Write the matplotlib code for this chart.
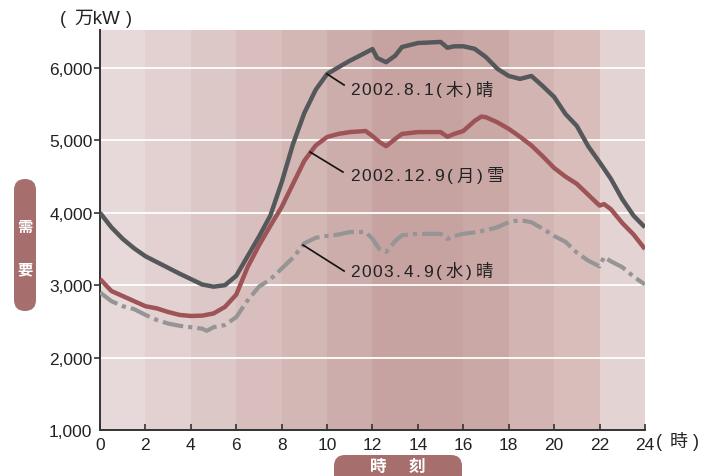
"""
Daily power demand curves (2002.8.1 / 2002.12.9 / 2003.4.9)
"""

import matplotlib.pyplot as plt
from matplotlib.patches import FancyBboxPatch

FONTS = ['Liberation Sans', 'Noto Sans CJK JP']
plt.rcParams['font.family'] = FONTS

# ---------------------------------------------------------------------------
# data (万kW)
# ---------------------------------------------------------------------------
hours_aug = [0, 0.5, 1, 1.5, 2, 2.5, 3, 3.5, 4, 4.5, 5, 5.5, 6, 6.5, 7, 7.5, 8, 8.5,
             9, 9.5, 10, 10.5, 11, 11.5, 12, 12.2, 12.6, 13, 13.3, 14, 15, 15.3, 15.6,
             16, 16.5, 17, 17.5, 18, 18.5, 19, 19.5, 20, 20.5, 21, 21.5, 22, 22.5, 23,
             23.5, 24]
demand_aug = [4000, 3800, 3640, 3510, 3400, 3320, 3240, 3160, 3085, 3010, 2980, 3000,
              3130, 3400, 3670, 3960, 4420, 4950, 5380, 5700, 5917, 6010, 6100, 6180,
              6262, 6140, 6080, 6170, 6290, 6345, 6360, 6280, 6300, 6300, 6265, 6150,
              5990, 5890, 5850, 5890, 5750, 5600, 5365, 5200, 4920, 4700, 4470, 4190,
              3960, 3800]

hours_dec = [0, 0.5, 1, 1.5, 2, 2.5, 3, 3.5, 4, 4.5, 5, 5.5, 6, 6.5, 7, 7.5, 8, 8.5,
             9, 9.5, 10, 10.5, 11, 11.7, 12, 12.3, 12.6, 13, 13.3, 14, 15, 15.3, 15.6,
             16, 16.5, 16.8, 17, 17.5, 18, 18.5, 19, 19.5, 20, 20.5, 21, 21.5, 22, 22.2,
             22.5, 23, 23.5, 24]
demand_dec = [3085, 2920, 2850, 2780, 2710, 2680, 2630, 2590, 2575, 2580, 2610, 2700,
              2870, 3250, 3550, 3820, 4080, 4400, 4720, 4930, 5047, 5090, 5115, 5130,
              5060, 4980, 4920, 5020, 5090, 5115, 5115, 5050, 5090, 5130, 5270, 5330,
              5320, 5250, 5160, 5050, 4930, 4780, 4620, 4500, 4400, 4250, 4100, 4120,
              4050, 3860, 3700, 3500]

hours_apr = [0, 0.5, 1, 1.5, 2, 2.5, 3, 3.5, 4, 4.5, 4.7, 5, 5.5, 6, 6.5, 7, 7.5, 8,
             8.5, 9, 9.5, 10, 10.5, 11, 11.7, 12, 12.3, 12.6, 13, 13.3, 14, 15, 15.3,
             15.6, 16, 16.5, 17, 17.5, 18, 18.5, 19, 19.5, 20, 20.5, 21, 21.5, 22, 22.2,
             22.5, 23, 23.5, 24]
demand_apr = [2900, 2780, 2710, 2670, 2590, 2520, 2470, 2440, 2420, 2400, 2370, 2420,
              2450, 2560, 2790, 2980, 3080, 3230, 3380, 3580, 3655, 3680, 3700, 3735,
              3735, 3640, 3500, 3460, 3610, 3690, 3710, 3710, 3640, 3680, 3710, 3730,
              3760, 3800, 3870, 3900, 3870, 3780, 3680, 3600, 3450, 3340, 3260, 3390,
              3330, 3250, 3120, 3010]

# background bands (2-hour blocks), darker around midday
band_starts = [0, 2, 4, 6, 8, 10, 12, 14, 16, 18, 20, 22]
band_colors = ['#E7D9D9', '#E2D1D0', '#DCC8C7', '#D8BFBD', '#D3B7B5', '#CDADAB',
               '#C6A3A1', '#C6A3A1', '#CAA8A6', '#D2B5B2', '#D8BDBA', '#E3D3D2']

x_ticks = list(range(0, 25, 2))
y_ticks = [1000, 2000, 3000, 4000, 5000, 6000]

# ---------------------------------------------------------------------------
fig = plt.figure(figsize=(7.15, 4.77), dpi=100)
ax = fig.add_axes([0.1399, 0.0964, 0.902 - 0.1399, 0.935 - 0.0964])
ax.set_xlim(0, 24)
ax.set_ylim(1000, 6525)

for start, col in zip(band_starts, band_colors):
    ax.axvspan(start, start + 2, color=col, lw=0, zorder=0)

for yv in y_ticks[1:]:
    ax.axhline(yv, color='white', lw=1.3, zorder=1)

ax.plot(hours_apr, demand_apr, color='#959595', lw=3.0, zorder=3,
        linestyle=(0, (5, 1.2, 1, 1.2)), dash_capstyle='butt', dash_joinstyle='round')
ax.plot(hours_dec, demand_dec, color='#9E5457', lw=3.2, zorder=4,
        solid_capstyle='butt', solid_joinstyle='round')
ax.plot(hours_aug, demand_aug, color='#55585B', lw=3.2, zorder=5,
        solid_capstyle='butt', solid_joinstyle='round')

# axes styling
for side in ('top', 'right'):
    ax.spines[side].set_visible(False)
for side in ('left', 'bottom'):
    ax.spines[side].set_color('#333333')
    ax.spines[side].set_linewidth(1.4)

ax.set_xticks(x_ticks)
ax.set_xticklabels([str(t) for t in x_ticks])
ax.set_yticks(y_ticks)
ax.set_yticklabels([f'{t:,}' for t in y_ticks])
ax.tick_params(axis='x', direction='in', length=4, width=1.2, color='#333333',
               pad=5, labelsize=12.5, labelcolor='#222222')
ax.tick_params(axis='y', direction='out', length=4, width=1.2, color='#333333',
               pad=1.5, labelsize=12.5, labelcolor='#222222')
ax.yaxis.get_majorticklines()[0].set_visible(False)


def char_width(ch):
    if ch.isdigit():
        return 11
    if ch == '.':
        return 9
    if ch in '()':
        return 11
    return 19


def spaced_label(x, y, s, size=12.5):
    """letter-spaced label, one text per character"""
    off = 0
    for ch in s:
        w = char_width(ch)
        ax.annotate(ch, (x, y), xytext=(off + w / 2, 0), textcoords='offset pixels',
                    ha='center', va='center', fontsize=size, color='#222222',
                    family=FONTS, zorder=6)
        off += w


# series labels with leader lines
labels = [
    ('2002.8.1(木)晴', (10.0, 5917), (10.75, 5765), 11.0, 5700),
    ('2002.12.9(月)雪', (9.25, 4840), (10.7, 4563), 11.0, 4510),
    ('2003.4.9(水)晴', (8.94, 3555), (10.75, 3196), 11.0, 3196),
]
for text, p0, p1, tx, ty in labels:
    ax.plot([p0[0], p1[0]], [p0[1], p1[1]], color='#111111', lw=1.2, zorder=6)
    spaced_label(tx, ty, text)

# unit label and hour suffix
fig.text(63 / 715, 1 - 19 / 477, '(', ha='center', va='center', fontsize=13, color='#222222')
fig.text(97 / 715, 1 - 19 / 477, '万kW', ha='center', va='center', fontsize=13.5, color='#222222')
fig.text(129 / 715, 1 - 19 / 477, ')', ha='center', va='center', fontsize=13, color='#222222')
for ch, px in (('(', 659), ('時', 679), (')', 696)):
    fig.text(px / 715, 1 - 443 / 477, ch, ha='center', va='center', fontsize=13,
             color='#222222')

# rounded pills (in inches so the corners stay round)
pill_color = '#A66F6E'
fig.patches.append(FancyBboxPatch((0.14, 1.65), 0.22, 1.32,
                                  boxstyle='round,pad=0,rounding_size=0.11',
                                  transform=fig.dpi_scale_trans, facecolor=pill_color,
                                  edgecolor='none', figure=fig))
fig.patches.append(FancyBboxPatch((3.34, -0.2), 1.28, 0.41,
                                  boxstyle='round,pad=0,rounding_size=0.11',
                                  transform=fig.dpi_scale_trans, facecolor=pill_color,
                                  edgecolor='none', figure=fig))

fig.text(25 / 715, 1 - 228 / 477, '需', ha='center', va='center', fontsize=11,
         color='white', weight='bold')
fig.text(25 / 715, 1 - 270 / 477, '要', ha='center', va='center', fontsize=11,
         color='white', weight='bold')
fig.text(378 / 715, 1 - 467 / 477, '時', ha='center', va='center', fontsize=12,
         color='white', weight='bold')
fig.text(417 / 715, 1 - 467 / 477, '刻', ha='center', va='center', fontsize=12,
         color='white', weight='bold')

fig.savefig('out.png', dpi=100)
plt.close(fig)
